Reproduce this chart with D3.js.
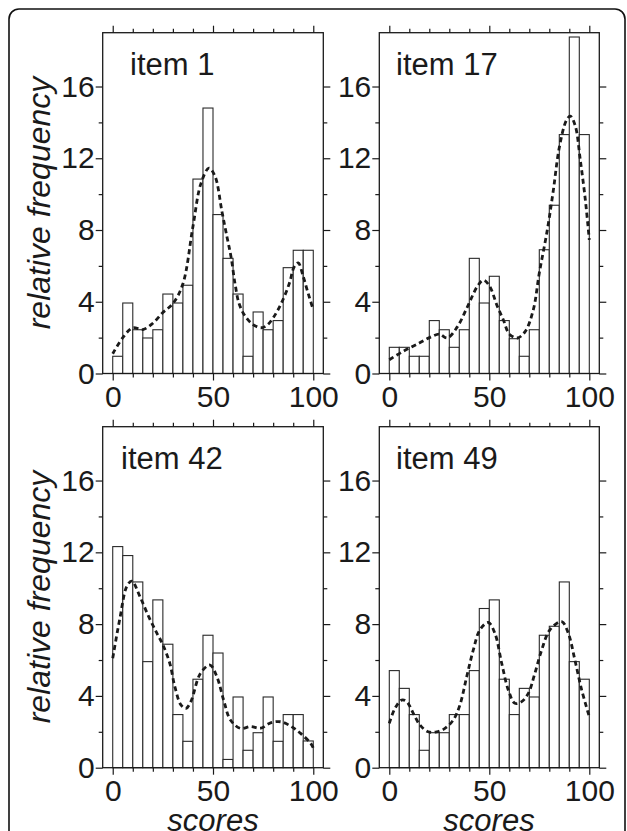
<!DOCTYPE html>
<html>
<head>
<meta charset="utf-8">
<script src="https://cdn.jsdelivr.net/npm/d3@7"></script>
<style>
  body { margin: 0; background: #fff; }
  svg { display: block; }
</style>
</head>
<body>
<script>
// bins are 5 score points wide
var binLeft = [0, 5, 10, 15, 20, 25, 30, 35, 40, 45, 50, 55, 60, 65, 70, 75, 80, 85, 90, 95];
var binWidth = 5;

var items = ["item 1", "item 17", "item 42", "item 49"];

// relative frequency per bin
var freq1  = [0.96, 3.93, 2.44, 1.98, 2.44, 4.43, 3.93, 4.92, 10.84, 14.8, 8.86, 6.42, 4.43, 0.96, 3.43, 2.44, 2.95, 5.9, 6.87, 6.87];
var freq17 = [1.46, 1.46, 0.96, 0.96, 2.95, 2.44, 1.46, 2.44, 6.42, 3.93, 5.42, 2.95, 1.94, 0.96, 2.44, 6.9, 9.38, 13.32, 18.76, 13.32];
var freq42 = [12.32, 11.82, 10.35, 5.91, 9.35, 6.88, 2.96, 1.47, 4.93, 7.38, 6.39, 0.46, 3.94, 0.97, 1.95, 3.94, 1.47, 2.96, 2.96, 1.49];
var freq49 = [5.41, 4.42, 2.96, 0.97, 1.95, 1.95, 2.96, 2.96, 5.41, 8.87, 9.35, 4.93, 2.96, 4.42, 3.94, 7.38, 7.88, 10.35, 5.91, 4.93];

// smoothed density (dashed), [score, frequency]
var dens1 = [[0,1.1],[5,2.0],[10,2.55],[15,2.45],[20,2.8],[25,3.4],[30,3.9],[35,5.0],[40,8.2],[44,10.6],[48,11.45],[51,11.0],[54.5,9.0],[57,7.6],[59,6.5],[61,5.0],[63,3.9],[66,3.2],[70,2.73],[74,2.55],[77,2.7],[80,3.1],[84,3.9],[88,5.0],[90.5,5.95],[92.5,6.17],[95,5.4],[97.5,4.45],[100,3.55]];
var dens17 = [[0,0.77],[7,1.24],[15,1.7],[21,2.05],[25,2.2],[29,1.98],[34,2.6],[39,3.7],[44,4.85],[47,5.2],[50,4.9],[54,3.75],[57,3.0],[60,2.2],[64,1.98],[68,2.35],[72,3.55],[75,5.6],[79,8.0],[82,10.2],[85,12.6],[88.5,14.1],[90.5,14.35],[93,13.8],[95.5,11.9],[98,9.7],[100,7.45]];
var dens42 = [[0,6.1],[3.7,8.4],[7,10.1],[9.5,10.4],[13.7,9.5],[18,8.4],[22,7.5],[25,6.85],[28.5,5.8],[31,4.5],[34,3.5],[36.5,3.3],[39,3.7],[43.7,5.25],[48.5,5.72],[52,5.05],[55.3,3.77],[58.7,2.66],[63.7,2.19],[68.7,2.29],[73.7,2.2],[78.7,2.5],[83.7,2.56],[88.7,2.32],[93.7,1.91],[98.7,1.36],[100,1.1]];
var dens49 = [[0,2.47],[2.8,3.3],[6.2,3.77],[8.7,3.68],[12,3.03],[15.3,2.38],[19.5,2.0],[23.7,2.0],[27.8,2.19],[32,2.66],[35.3,3.49],[38.7,5.07],[42,6.56],[45.3,7.68],[49.5,8.09],[52.8,7.49],[56.2,5.82],[59.5,4.33],[62.8,3.59],[66.2,3.68],[69.5,4.14],[72.8,5.26],[76.2,6.56],[80.3,7.68],[86.2,8.14],[89.5,7.49],[92.8,6.0],[96.2,4.33],[100,2.84]];

var xMajor = [0, 50, 100];
var xMinor = [10, 20, 30, 40, 60, 70, 80, 90];
var yMajor = [0, 4, 8, 12, 16];
var yMinor = [2, 6, 10, 14];

var width = 627, height = 831;
var font = "'Liberation Sans', Arial, Helvetica, sans-serif";

var svg = d3.select("body").append("svg")
   .attr("width", width).attr("height", height)
   .attr("viewBox", "0,0," + width + "," + height);

// outer rounded frame (runs off the bottom)
svg.append("rect")
   .attr("x", 9).attr("y", 9)
   .attr("width", 616).attr("height", 860)
   .attr("rx", 10).attr("ry", 10)
   .attr("fill", "none").attr("stroke", "#111").attr("stroke-width", 1.6);

var panels = [
   {label: items[0], freq: freq1,  dens: dens1,  x0: 102.7, x1: 323.3, yb: 373.5, yt: 32.7,  lx: 130},
   {label: items[1], freq: freq17, dens: dens17, x0: 379.3, x1: 599.3, yb: 373.5, yt: 32.7,  lx: 396},
   {label: items[2], freq: freq42, dens: dens42, x0: 102.7, x1: 323.3, yb: 767.7, yt: 426.7, lx: 121},
   {label: items[3], freq: freq49, dens: dens49, x0: 379.3, x1: 599.3, yb: 767.7, yt: 426.7, lx: 396}
];

panels.forEach(function(p){
   var x = d3.scaleLinear().domain([-5, 105]).range([p.x0, p.x1]);
   var y = d3.scaleLinear().domain([0, 19]).range([p.yb, p.yt]);
   var g = svg.append("g");

   // bars
   g.selectAll("rect.bar").data(p.freq).enter().append("rect")
      .attr("class", "bar")
      .attr("x", function(d,i){ return x(binLeft[i]); })
      .attr("width", function(d,i){ return x(binLeft[i] + binWidth) - x(binLeft[i]); })
      .attr("y", function(d){ return y(d); })
      .attr("height", function(d){ return y(0) - y(d); })
      .attr("fill", "#fff")
      .attr("stroke", "#2a2a2a")
      .attr("stroke-width", 1.1);

   // density curve
   var line = d3.line()
      .x(function(d){ return x(d[0]); })
      .y(function(d){ return y(d[1]); })
      .curve(d3.curveCatmullRom);
   g.append("path")
      .attr("d", line(p.dens))
      .attr("fill", "none")
      .attr("stroke", "#1a1a1a")
      .attr("stroke-width", 2.8)
      .attr("stroke-dasharray", "5,3.5");

   // frame
   g.append("rect")
      .attr("x", p.x0).attr("y", p.yt)
      .attr("width", p.x1 - p.x0).attr("height", p.yb - p.yt)
      .attr("fill", "none").attr("stroke", "#1a1a1a").attr("stroke-width", 1.3);

   // ticks, all pointing outward
   function tickAxis(axis, vals, size, labels){
      var a = axis.tickValues(vals).tickSize(size).tickSizeOuter(0);
      if(!labels) a.tickFormat("");
      return a;
   }
   var axes = [
      {ax: d3.axisLeft(y),   tr: "translate(" + p.x0 + ",0)", lab: true},
      {ax: d3.axisRight(y),  tr: "translate(" + p.x1 + ",0)", lab: false},
      {ax: d3.axisBottom(x), tr: "translate(0," + p.yb + ")", lab: true},
      {ax: d3.axisTop(x),    tr: "translate(0," + p.yt + ")", lab: false}
   ];
   axes.forEach(function(a, k){
      var isY = k < 2;
      var major = g.append("g").attr("transform", a.tr)
         .call(tickAxis(a.ax, isY ? yMajor : xMajor, 7, a.lab).tickPadding(isY ? 1 : 5));
      var minorAx = (k == 0 ? d3.axisLeft(y) : k == 1 ? d3.axisRight(y) : k == 2 ? d3.axisBottom(x) : d3.axisTop(x));
      var minor = g.append("g").attr("transform", a.tr)
         .call(tickAxis(minorAx, isY ? yMinor : xMinor, 4, false));
      [major, minor].forEach(function(s){
         s.select(".domain").remove();
         s.selectAll("line").attr("stroke", "#1a1a1a").attr("stroke-width", 1.2);
         s.selectAll("text")
            .attr("font-family", font)
            .attr("font-size", 30)
            .attr("fill", "#1a1a1a");
      });
   });

   // item label
   g.append("text")
      .attr("x", p.lx).attr("y", p.yt + 42)
      .attr("font-family", font)
      .attr("font-size", 31)
      .attr("fill", "#1a1a1a")
      .text(p.label);
});

// axis titles
[203, 597].forEach(function(cy){
   svg.append("text")
      .attr("transform", "translate(50," + cy + ") rotate(-90)")
      .attr("text-anchor", "middle")
      .attr("font-family", font)
      .attr("font-style", "italic")
      .attr("font-size", 32)
      .attr("fill", "#1a1a1a")
      .text("relative frequency");
});
[213, 489].forEach(function(cx){
   svg.append("text")
      .attr("x", cx).attr("y", 831)
      .attr("text-anchor", "middle")
      .attr("font-family", font)
      .attr("font-style", "italic")
      .attr("font-size", 31)
      .attr("fill", "#1a1a1a")
      .text("scores");
});
</script>
</body>
</html>
